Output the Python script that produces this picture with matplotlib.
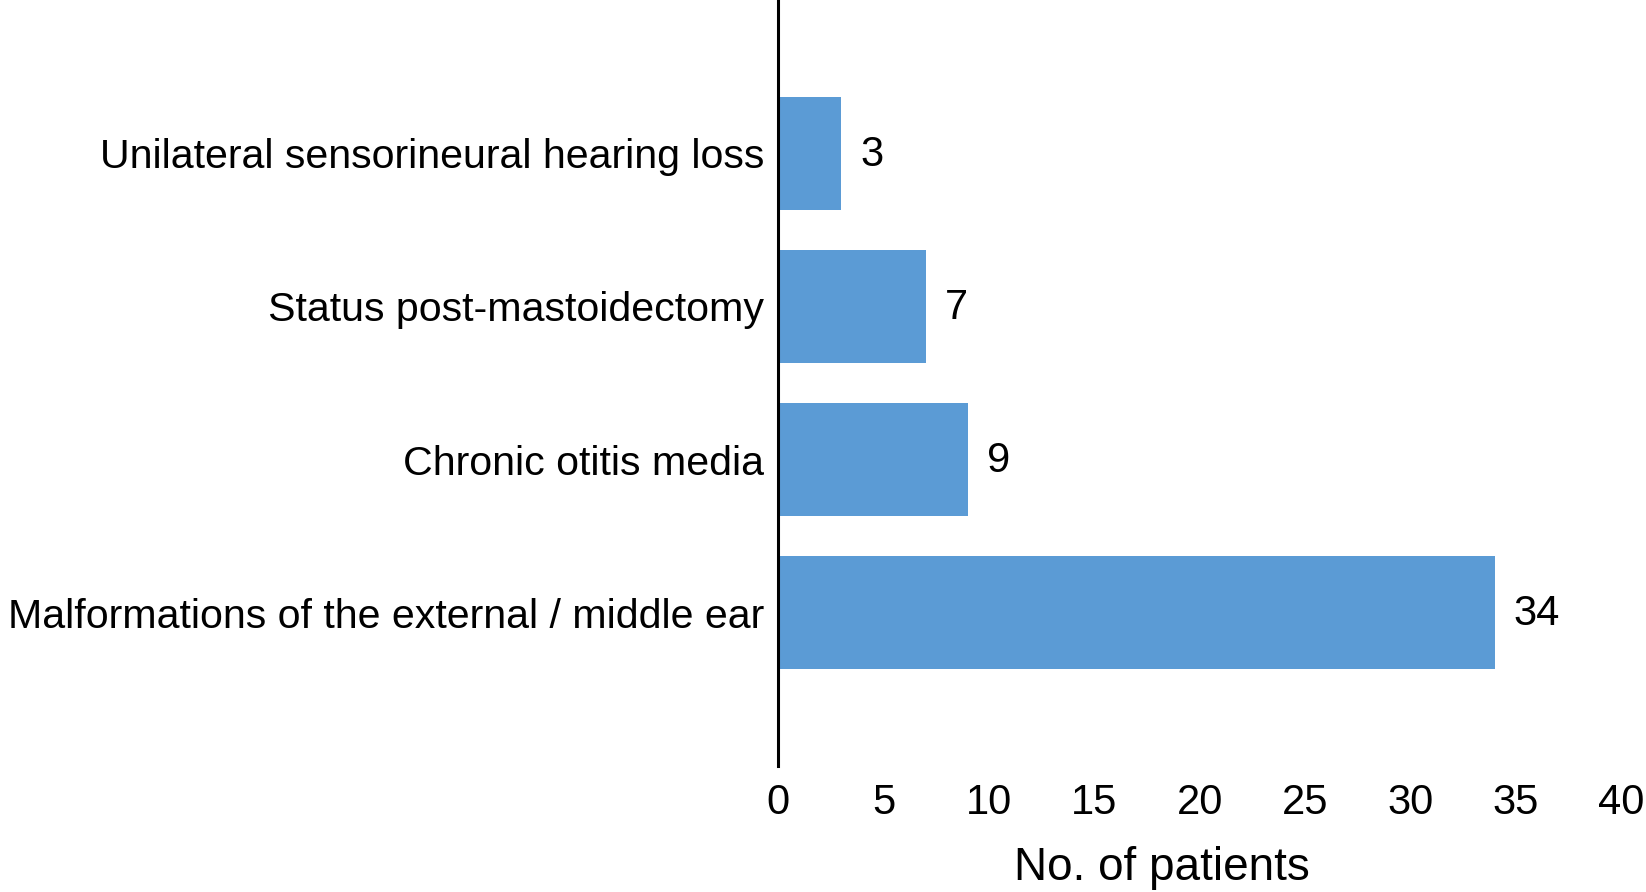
import matplotlib
matplotlib.use("Agg")
import matplotlib.pyplot as plt

plt.rcParams['font.family'] = ['Liberation Sans', 'DejaVu Sans']

categories = ["Malformations of the external / middle ear",
              "Chronic otitis media",
              "Status post-mastoidectomy",
              "Unilateral sensorineural hearing loss"]
patients = [34, 9, 7, 3]
xticks = [0, 5, 10, 15, 20, 25, 30, 35, 40]

fig = plt.figure(figsize=(16.46, 8.92), dpi=100)
ax = fig.add_axes([0.4727, 0.1413, 0.5123, 0.8587])

ypos = range(len(categories))
ax.barh(ypos, patients, height=0.74, color="#5B9BD5")
for y, v in zip(ypos, patients):
    ax.text(v + 0.9, y - 0.01, str(v), va="center", ha="left", fontsize=30)

ax.set_xlim(0, 40)
ax.set_ylim(-1, 4)
ax.set_xticks(xticks)
ax.set_yticks(list(ypos))
ax.set_yticklabels(categories, fontsize=29.6)
ax.tick_params(axis="both", length=0)
ax.tick_params(axis="x", labelsize=30, pad=12)
ax.tick_params(axis="y", pad=10)

for s in ["top", "right", "bottom"]:
    ax.spines[s].set_visible(False)
ax.spines["left"].set_linewidth(2.2)
ax.spines["left"].set_color("black")

ax.set_xlabel("No. of patients", fontsize=33)
ax.xaxis.set_label_coords(0.455, -0.105)

fig.savefig("out.png", dpi=100)
